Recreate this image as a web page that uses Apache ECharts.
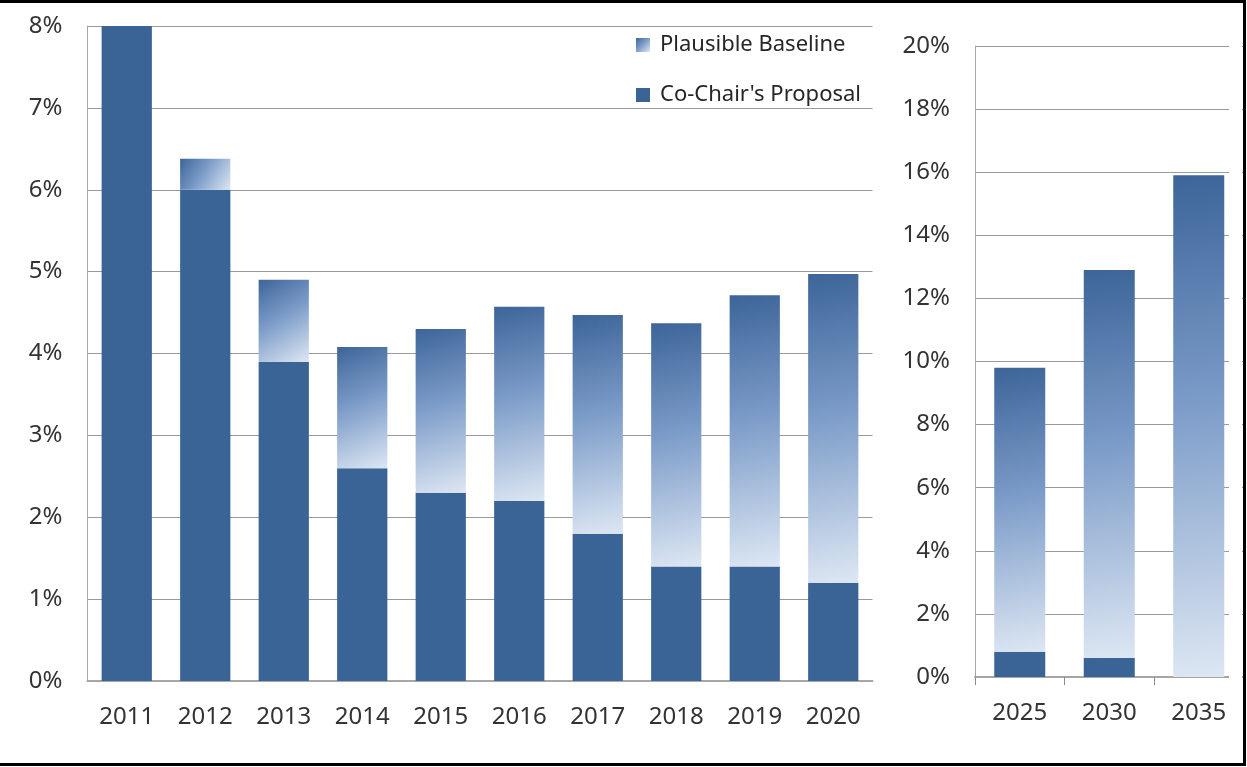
<!DOCTYPE html>
<html>
<head>
<meta charset="utf-8">
<script src="https://cdn.jsdelivr.net/npm/echarts@6/dist/echarts.min.js"></script>
<style>
html,body{margin:0;padding:0;background:#fff;}
#chart{width:1247px;height:767px;}
</style>
</head>
<body>
<div id="chart"></div>
<script>
// Near-term years (left panel)
const yearsNear = ['2011','2012','2013','2014','2015','2016','2017','2018','2019','2020'];
const proposalNear = [8.0, 6.0, 3.9, 2.6, 2.3, 2.2, 1.8, 1.4, 1.4, 1.2];
const baselineNear = [8.0, 6.38, 4.9, 4.08, 4.3, 4.57, 4.47, 4.37, 4.71, 4.97];
// Long-term years (right panel)
const yearsFar = ['2025','2030','2035'];
const proposalFar = [0.8, 0.6, 0.0];
const baselineFar = [9.8, 12.9, 15.9];

const NAME_BASE = 'Plausible Baseline';
const NAME_PROP = "Co-Chair's Proposal";

const darkBlue = '#3a6396';
const grad = new echarts.graphic.LinearGradient(0, 0, 1, 1, [
  {offset: 0, color: '#3d6599'},
  {offset: 0.45, color: '#7b9bc8'},
  {offset: 1, color: '#dde7f3'}
]);

const diff = (tot, base) => tot.map((v, i) => +(v - base[i]).toFixed(3));

const FONT = 'Noto Sans';
const labelColor = '#333';
const gridColor = '#9a9a9a';
const AXIS_FS = 24;

const chart = echarts.init(document.getElementById('chart'));
chart.setOption({
  animation: false,
  backgroundColor: '#fff',
  textStyle: {fontFamily: FONT},
  legend: {
    orient: 'vertical',
    left: 631,
    top: 29,
    itemWidth: 14,
    itemHeight: 14,
    itemGap: 28,
    icon: 'rect',
    data: [NAME_BASE, NAME_PROP],
    textStyle: {fontFamily: FONT, fontSize: 22, color: '#262626', lineHeight: 22, padding: [0, 0, 0, 5]}
  },
  grid: [
    {left: 87.5, top: 26, width: 785, height: 655},
    {left: 975, top: 46, width: 268.5, height: 631}
  ],
  xAxis: [
    {
      type: 'category', gridIndex: 0, data: yearsNear,
      axisLine: {show: true, lineStyle: {color: '#a6a6a6', width: 2}},
      axisTick: {show: false},
      axisLabel: {fontFamily: FONT, fontSize: AXIS_FS, color: labelColor, margin: 24}
    },
    {
      type: 'category', gridIndex: 1, data: yearsFar,
      axisLine: {show: true, lineStyle: {color: '#a6a6a6', width: 2}},
      axisTick: {show: true, length: 8, lineStyle: {color: '#8c8c8c', width: 1}},
      axisLabel: {fontFamily: FONT, fontSize: AXIS_FS, color: labelColor, margin: 24}
    }
  ],
  yAxis: [
    {
      type: 'value', gridIndex: 0, min: 0, max: 8, interval: 1,
      axisLine: {show: true, lineStyle: {color: '#a6a6a6', width: 1}},
      axisTick: {show: false},
      splitLine: {show: true, lineStyle: {color: gridColor, width: 1}},
      axisLabel: {fontFamily: FONT, fontSize: AXIS_FS, color: labelColor, margin: 25, formatter: '{value}%'}
    },
    {
      type: 'value', gridIndex: 1, min: 0, max: 20, interval: 2,
      axisLine: {show: true, lineStyle: {color: '#a6a6a6', width: 1}},
      axisTick: {show: false},
      splitLine: {show: true, lineStyle: {color: gridColor, width: 1}},
      axisLabel: {fontFamily: FONT, fontSize: AXIS_FS, color: labelColor, margin: 25, formatter: '{value}%'}
    }
  ],
  series: [
    {
      name: NAME_PROP, type: 'bar', xAxisIndex: 0, yAxisIndex: 0, stack: 'near',
      barWidth: '64%', data: proposalNear, itemStyle: {color: darkBlue}
    },
    {
      name: NAME_BASE, type: 'bar', xAxisIndex: 0, yAxisIndex: 0, stack: 'near',
      barWidth: '64%', data: diff(baselineNear, proposalNear), itemStyle: {color: grad}
    },
    {
      name: NAME_PROP, type: 'bar', xAxisIndex: 1, yAxisIndex: 1, stack: 'far',
      barWidth: '57%', data: proposalFar, itemStyle: {color: darkBlue}
    },
    {
      name: NAME_BASE, type: 'bar', xAxisIndex: 1, yAxisIndex: 1, stack: 'far',
      barWidth: '57%', data: diff(baselineFar, proposalFar), itemStyle: {color: grad}
    }
  ],
  graphic: [
    {
      type: 'rect', z: 100, silent: true,
      shape: {x: 1229, y: 38, width: 13, height: 650},
      style: {fill: '#fff', stroke: null}
    },
    {
      type: 'rect', z: 101, silent: true,
      shape: {x: -5, y: 1.5, width: 1249.5, height: 763},
      style: {fill: null, stroke: '#000', lineWidth: 3}
    }
  ]
});
</script>
</body>
</html>
